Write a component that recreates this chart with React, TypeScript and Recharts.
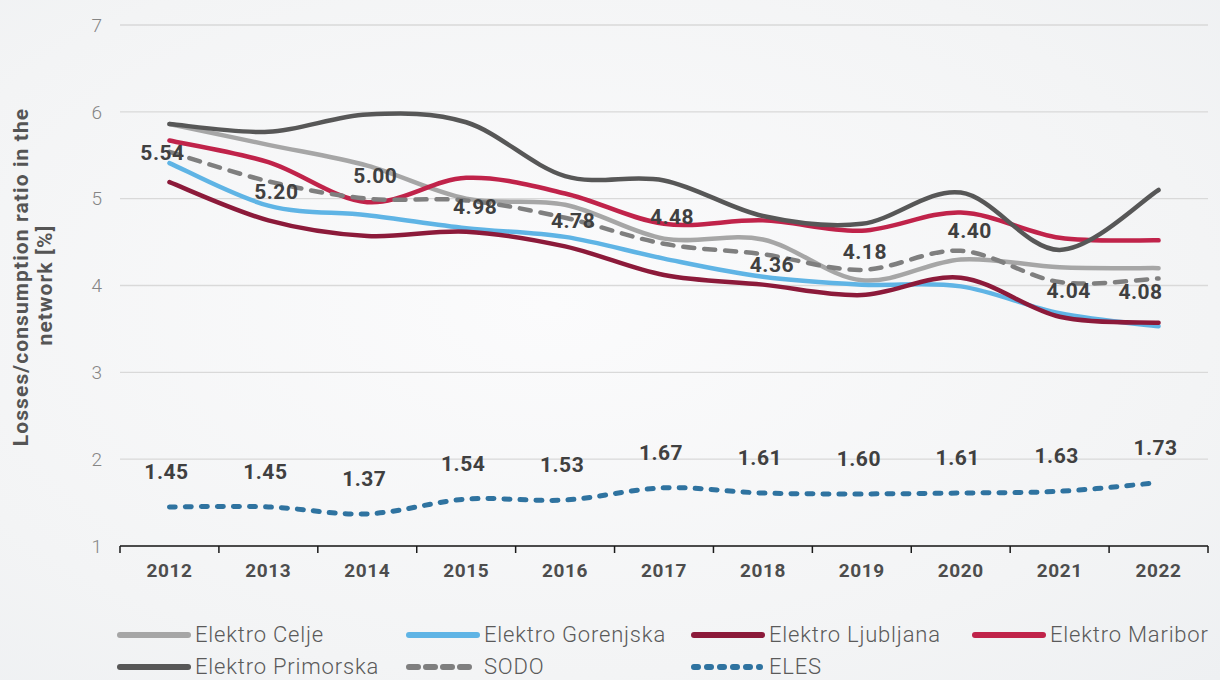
import { LineChart, Line, XAxis, YAxis, CartesianGrid, LabelList } from 'recharts'

const years = ['2012', '2013', '2014', '2015', '2016', '2017', '2018', '2019', '2020', '2021', '2022']

const celje = [5.86, 5.62, 5.38, 5.0, 4.93, 4.54, 4.53, 4.06, 4.3, 4.21, 4.2]
const gorenjska = [5.41, 4.92, 4.81, 4.66, 4.56, 4.31, 4.1, 4.01, 3.99, 3.68, 3.53]
const ljubljana = [5.19, 4.75, 4.57, 4.62, 4.45, 4.12, 4.01, 3.89, 4.09, 3.64, 3.57]
const maribor = [5.67, 5.42, 4.96, 5.24, 5.06, 4.71, 4.75, 4.63, 4.84, 4.55, 4.52]
const primorska = [5.86, 5.77, 5.97, 5.88, 5.26, 5.21, 4.8, 4.71, 5.07, 4.41, 5.1]
const sodo = [5.54, 5.2, 5.0, 4.98, 4.78, 4.48, 4.36, 4.18, 4.4, 4.04, 4.08]
const eles = [1.45, 1.45, 1.37, 1.54, 1.53, 1.67, 1.61, 1.6, 1.61, 1.63, 1.73]

const yTicks = [1, 2, 3, 4, 5, 6, 7]

// label nudges for the SODO values (px)
const sodoDx = [-7, 8, 8, 9, 8, 8, 9, 3, 9, 9, -18]
const sodoDy = [1, 11, -23, 7, 3, -27, 11, -18, -20, 9, 13]

const data = years.map((year, i) => ({
  year,
  celje: celje[i],
  gorenjska: gorenjska[i],
  ljubljana: ljubljana[i],
  maribor: maribor[i],
  primorska: primorska[i],
  sodo: sodo[i],
  eles: eles[i],
}))

const SERIES = [
  { key: 'celje', name: 'Elektro Celje', color: '#a6a6a6', dash: undefined as string | undefined },
  { key: 'gorenjska', name: 'Elektro Gorenjska', color: '#5fb4e5', dash: undefined },
  { key: 'ljubljana', name: 'Elektro Ljubljana', color: '#8c1a3a', dash: undefined },
  { key: 'maribor', name: 'Elektro Maribor', color: '#c0234a', dash: undefined },
  { key: 'primorska', name: 'Elektro Primorska', color: '#575757', dash: undefined },
  { key: 'sodo', name: 'SODO', color: '#7f7f7f', dash: '11 10' },
  { key: 'eles', name: 'ELES', color: '#2f73a0', dash: '6 10' },
]

const FONT = 'Roboto, "Noto Sans", sans-serif'
const HALF_BAND = 1088 / 11 / 2

// smooth curve through every point, like the spreadsheet "smoothed line"
function smoothCurve(context: any) {
  let pts: number[][] = []
  return {
    areaStart() {},
    areaEnd() {},
    lineStart() { pts = [] },
    point(x: number, y: number) { pts.push([+x, +y]) },
    lineEnd() {
      if (!pts.length) return
      context.moveTo(pts[0][0], pts[0][1])
      const t = 1 / 6
      for (let i = 0; i < pts.length - 1; i++) {
        const p0 = pts[i - 1] || pts[i]
        const p1 = pts[i]
        const p2 = pts[i + 1]
        const p3 = pts[i + 2] || p2
        context.bezierCurveTo(
          p1[0] + (p2[0] - p0[0]) * t, p1[1] + (p2[1] - p0[1]) * t,
          p2[0] - (p3[0] - p1[0]) * t, p2[1] - (p3[1] - p1[1]) * t,
          p2[0], p2[1],
        )
      }
    },
  }
}

function XTick({ x, y, payload, index }: any) {
  return (
    <g>
      <line x1={x - HALF_BAND} x2={x - HALF_BAND} y1={y} y2={y + 7} stroke="#1a1a1a" strokeWidth={1.5} />
      {index === years.length - 1 && (
        <line x1={x + HALF_BAND} x2={x + HALF_BAND} y1={y} y2={y + 7} stroke="#1a1a1a" strokeWidth={1.5} />
      )}
      <text x={x} y={y + 31} textAnchor="middle" fill="#4d4d4d" fontSize={19} fontWeight={700} fontFamily={FONT} letterSpacing={0.6}>
        {payload.value}
      </text>
    </g>
  )
}

function SodoLabel({ x, y, value, index }: any) {
  return (
    <text x={x + sodoDx[index]} y={y + sodoDy[index]} textAnchor="middle" dominantBaseline="central"
      fill="#404040" fontSize={21} fontWeight={700} fontFamily={FONT} letterSpacing={0.5}>
      {Number(value).toFixed(2)}
    </text>
  )
}

function ElesLabel({ x, y, value }: any) {
  return (
    <text x={x - 3} y={y - 35} textAnchor="middle" dominantBaseline="central"
      fill="#404040" fontSize={21} fontWeight={700} fontFamily={FONT} letterSpacing={0.5}>
      {Number(value).toFixed(2)}
    </text>
  )
}

function YTitle() {
  return (
    <g fill="#555" fontSize={21} fontWeight={700} fontFamily={FONT} letterSpacing={1.1}>
      <text x={21} y={277} transform="rotate(-90, 21, 277)" textAnchor="middle" dominantBaseline="central">
        Losses/consumption ratio in the
      </text>
      <text x={45} y={285} transform="rotate(-90, 45, 285)" textAnchor="middle" dominantBaseline="central">
        network [%]
      </text>
    </g>
  )
}

function LegendIcon({ color, dash }: { color: string; dash?: string }) {
  return (
    <svg width={76} height={10} style={{ display: 'block' }}>
      <line x1={4} x2={dash ? 70 : 72} y1={5} y2={5} stroke={color} strokeWidth={6}
        strokeLinecap="round" strokeDasharray={dash === '6 10' ? '4 9' : dash ? '9 8' : undefined} />
    </svg>
  )
}

const legendCols = [120, 409, 694, 975]

export default function App() {
  return (
    <div style={{
      position: 'absolute', left: 0, top: 0, width: 1220, height: 680, overflow: 'hidden',
      background: 'radial-gradient(ellipse at 45% 45%, #fbfbfc 0%, #f3f4f5 70%, #eef0f2 100%)',
    }}>
      <LineChart width={1220} height={600} data={data} margin={{ top: 25, right: 12, left: 0, bottom: 0 }}>
        <CartesianGrid vertical={false} stroke="#d9d9d9" strokeWidth={1.3} />
        <XAxis
          dataKey="year"
          height={54}
          padding={{ left: HALF_BAND, right: HALF_BAND }}
          axisLine={{ stroke: '#1a1a1a', strokeWidth: 1.5 }}
          tickLine={false}
          tickSize={0}
          tickMargin={0}
          tick={<XTick />}
          interval={0}
        />
        <YAxis
          width={120}
          domain={[1, 7]}
          ticks={yTicks}
          axisLine={false}
          tickLine={false}
          tickMargin={12}
          tick={{ fontSize: 19, fill: '#858585', fontWeight: 300, fontFamily: FONT }}
          label={{ content: () => <YTitle /> }}
        />
        {SERIES.map((s) => (
          <Line
            key={s.key}
            dataKey={s.key}
            name={s.name}
            type={smoothCurve as any}
            stroke={s.color}
            strokeWidth={s.key === 'eles' ? 5 : 4.5}
            strokeLinecap="round"
            strokeDasharray={s.dash}
            dot={false}
            activeDot={false}
            isAnimationActive={false}
          >
            {s.key === 'sodo' && <LabelList dataKey="sodo" content={<SodoLabel />} />}
            {s.key === 'eles' && <LabelList dataKey="eles" content={<ElesLabel />} />}
          </Line>
        ))}
      </LineChart>
      {SERIES.map((s, i) => (
        <div key={s.key} style={{
          position: 'absolute', left: legendCols[i % 4] - 4, top: i < 4 ? 622 : 654,
          display: 'flex', alignItems: 'center', gap: 3,
          fontFamily: FONT, fontSize: 22, fontWeight: 300, color: '#5a5a5a', whiteSpace: 'nowrap',
          letterSpacing: 0.8,
        }}>
          <LegendIcon color={s.color} dash={s.dash} />
          <span>{s.name}</span>
        </div>
      ))}
    </div>
  )
}
